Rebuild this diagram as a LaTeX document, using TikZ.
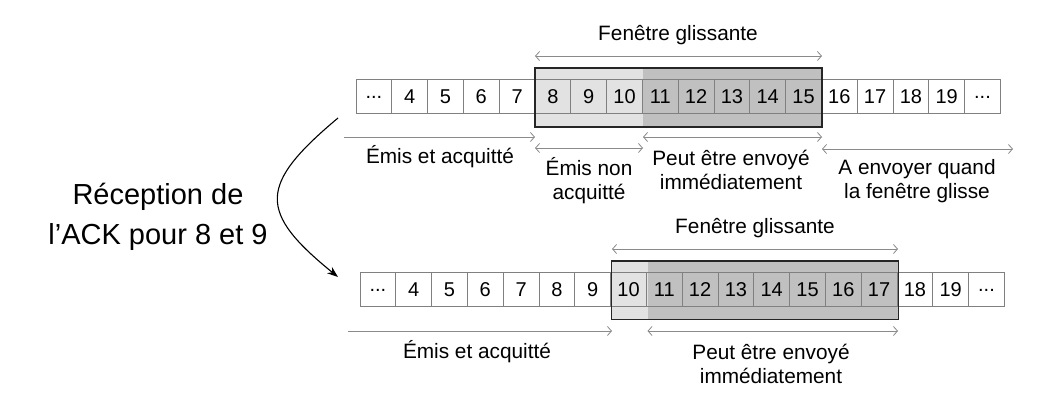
\documentclass[tikz,border=0pt]{standalone}
\usepackage{fontspec}
\setmainfont{Liberation Sans}
\usetikzlibrary{arrows.meta}
\newcommand\tdots{...}
\definecolor{cellline}{HTML}{808080}
\definecolor{lightwin}{HTML}{E2E2E2}
\definecolor{darkwin}{HTML}{C0C0C0}
\definecolor{arrowgrey}{HTML}{8A8A8A}
\tikzset{
  cell/.style={draw=cellline, line width=1pt, minimum width=35.8pt, minimum height=34pt, inner sep=0pt, font=\fontsize{20}{22}\selectfont, anchor=center},
  outcell/.style={cell, fill=white},
  winframe/.style={draw=black!85, line width=1.4pt},
  span/.style={draw=arrowgrey, line width=0.8pt, -{Straight Barb[length=4pt,width=9pt]}},
  dspan/.style={draw=arrowgrey, line width=0.8pt, {Straight Barb[length=4pt,width=9pt]}-{Straight Barb[length=4pt,width=9pt]}},
  lbl/.style={align=center, inner sep=0pt, font=\fontsize{20.8}{24}\selectfont},
  big/.style={align=center, inner sep=0pt, font=\fontsize{29}{40}\selectfont},
  move/.style={draw=black, line width=1.1pt, -{Stealth[length=11pt,width=8pt]}}
}
\begin{document}
\begin{tikzpicture}[x=1pt,y=-1pt]
\useasboundingbox (0,0) rectangle (1045,403);
% ---------- top row ----------
\fill[lightwin] (535,68) rectangle (643,127);
\fill[darkwin] (643,68) rectangle (822,127);
\foreach \t [count=\i from 0] in {\tdots,4,5,6,7,8,9,10,11,12,13,14,15,16,17,18,19,\tdots}{
  \pgfmathsetmacro{\cx}{356+35.8*(\i+0.5)}
  \ifnum\i<5
    \node[outcell] (t\i) at (\cx,97) {\t};
  \else\ifnum\i>12
    \node[outcell] (t\i) at (\cx,97) {\t};
  \else
    \node[cell] (t\i) at (\cx,97) {\t};
  \fi\fi
}
\node[winframe, minimum width=287pt, minimum height=59pt, inner sep=0pt] (w1) at (678.5,97.5) {};
\coordinate (fa) at (535,56); \coordinate (fb) at (822,56);
\draw[dspan] (fa) -- (fb);
\node[lbl] (fl1) at (678,35) {Fenêtre glissante};
\coordinate (ea) at (344,137); \coordinate (eb) at (535,137);
\draw[span] (ea) -- (eb);
\node[lbl] (el1) at (440,157) {Émis et acquitté};
\coordinate (na) at (535,148); \coordinate (nb) at (643,148);
\draw[dspan] (na) -- (nb);
\node[lbl] (nl1) at (589,181) {Émis non\\acquitté};
\coordinate (pa) at (643,137); \coordinate (pb) at (822,137);
\draw[dspan] (pa) -- (pb);
\node[lbl] (pl1) at (731,170) {Peut être envoyé\\immédiatement};
\coordinate (aa) at (822,149); \coordinate (ab) at (1013,149);
\draw[dspan] (aa) -- (ab);
\node[lbl] (al1) at (917,181) {A envoyer quand\\la fenêtre glisse};
% ---------- bottom row ----------
\fill[lightwin] (611.7,261) rectangle (647.5,319.5);
\fill[darkwin] (647.5,261) rectangle (898.3,319.5);
\foreach \t [count=\i from 0] in {\tdots,4,5,6,7,8,9,10,11,12,13,14,15,16,17,18,19,\tdots}{
  \pgfmathsetmacro{\cx}{360+35.8*(\i+0.5)}
  \ifnum\i<7
    \node[outcell] (b\i) at (\cx,290) {\t};
  \else\ifnum\i>14
    \node[outcell] (b\i) at (\cx,290) {\t};
  \else
    \node[cell] (b\i) at (\cx,290) {\t};
  \fi\fi
}
\node[winframe, minimum width=286.6pt, minimum height=58.5pt, inner sep=0pt] (w2) at (755,290.25) {};
\coordinate (gfa) at (612,249); \coordinate (gfb) at (898,249);
\draw[dspan] (gfa) -- (gfb);
\node[lbl] (fl2) at (755,228) {Fenêtre glissante};
\coordinate (gea) at (348,331); \coordinate (geb) at (612,331);
\draw[span] (gea) -- (geb);
\node[lbl] (el2) at (477,352) {Émis et acquitté};
\coordinate (gpa) at (647.5,331); \coordinate (gpb) at (898,331);
\draw[dspan] (gpa) -- (gpb);
\node[lbl] (pl2) at (771,364) {Peut être envoyé\\immédiatement};
% ---------- transition ----------
\node[big] (rec) at (158,217) {Réception de\\l’ACK pour 8 et 9};
\coordinate (cs) at (338,118); \coordinate (ce) at (338,277);
\draw[move] (cs) .. controls (258,185) and (258,212) .. (ce);
\end{tikzpicture}
\end{document}
